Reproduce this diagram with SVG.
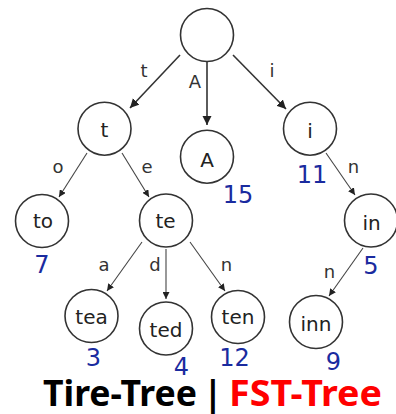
<svg xmlns="http://www.w3.org/2000/svg" width="396" height="414" viewBox="0 0 396 414">
<style>
.node circle{fill:#fff;stroke:#333;stroke-width:1.6}
.node text{font-family:"DejaVu Sans",sans-serif;font-size:20px;fill:#222;text-anchor:middle}
.lbl{font-family:"DejaVu Sans",sans-serif;font-size:18px;fill:#333;text-anchor:middle}
.node text.num{font-family:"DejaVu Sans",sans-serif;font-size:24px;fill:#1a2b9f;text-anchor:middle}
.e1{stroke:#333;stroke-width:1.6;marker-end:url(#ab)}
.e2{stroke:#444;stroke-width:1.1;marker-end:url(#as)}
.title{font-family:"Noto Sans","DejaVu Sans",sans-serif;font-weight:bold;font-size:35px}
</style>
<defs>
<marker id="ab" viewBox="0 0 10 10" refX="10" refY="5" markerWidth="9" markerHeight="10" markerUnits="userSpaceOnUse" orient="auto"><path d="M0,0 L10,5 L0,10 z" fill="#222"/></marker>
<marker id="as" viewBox="0 0 10 10" refX="10" refY="5" markerWidth="7" markerHeight="7" markerUnits="userSpaceOnUse" orient="auto"><path d="M0,0 L10,5 L0,10 z" fill="#222"/></marker>
</defs>
<rect width="396" height="414" fill="#fff"/>
<g id="edges">
<line class="e1" x1="180" y1="55" x2="130" y2="108"/>
<line class="e1" x1="207" y1="62" x2="207" y2="125"/>
<line class="e1" x1="233" y1="55" x2="286" y2="109"/>
<line class="e2" x1="87" y1="153" x2="59" y2="197"/>
<line class="e2" x1="122" y1="153" x2="149" y2="197"/>
<line class="e2" x1="326" y1="153" x2="355" y2="195"/>
<line class="e2" x1="142" y1="242" x2="107" y2="291"/>
<line class="e2" x1="166" y1="249" x2="166" y2="299"/>
<line class="e2" x1="190" y1="242" x2="225" y2="291"/>
<line class="e2" x1="363" y1="248" x2="329" y2="296"/>
<text class="lbl" x="144" y="77">t</text>
<text class="lbl" x="195" y="88">A</text>
<text class="lbl" x="272" y="77">i</text>
<text class="lbl" x="58" y="173">o</text>
<text class="lbl" x="147" y="173">e</text>
<text class="lbl" x="353.5" y="173">n</text>
<text class="lbl" x="104" y="271">a</text>
<text class="lbl" x="155" y="271">d</text>
<text class="lbl" x="226.5" y="271">n</text>
<text class="lbl" x="329.5" y="278">n</text>
</g>
<g id="root" class="node"><circle cx="207" cy="35" r="26.5"/></g>
<g id="n-t" class="node"><circle cx="104.5" cy="128.7" r="26.5"/><text x="104.5" y="137">t</text></g>
<g id="n-A" class="node"><circle cx="207" cy="156.7" r="26.5"/><text x="207" y="167">A</text><text class="num" x="238" y="203">15</text></g>
<g id="n-i" class="node"><circle cx="310" cy="128.7" r="26.5"/><text x="310" y="138">i</text><text class="num" x="312" y="183">11</text></g>
<g id="n-to" class="node"><circle cx="42" cy="221" r="26.5"/><text x="43" y="228">to</text><text class="num" x="42" y="273">7</text></g>
<g id="n-te" class="node"><circle cx="166" cy="220.5" r="26.5"/><text x="165.5" y="228">te</text></g>
<g id="n-in" class="node"><circle cx="371" cy="220.5" r="26.5"/><text x="371.5" y="230">in</text><text class="num" x="371" y="274">5</text></g>
<g id="n-tea" class="node"><circle cx="91.5" cy="316" r="26.5"/><text x="91.5" y="324">tea</text><text class="num" x="93.5" y="366">3</text></g>
<g id="n-ted" class="node"><circle cx="166" cy="328.5" r="26.5"/><text x="166" y="337">ted</text><text class="num" x="181.5" y="375">4</text></g>
<g id="n-ten" class="node"><circle cx="238" cy="317" r="26.5"/><text x="238" y="324">ten</text><text class="num" x="234.5" y="366">12</text></g>
<g id="n-inn" class="node"><circle cx="316" cy="322" r="26.5"/><text x="316" y="330.5">inn</text><text class="num" x="333.5" y="370">9</text></g>
<g id="title" class="title">
<text x="43" y="406" textLength="154" lengthAdjust="spacingAndGlyphs" fill="#000">Tire-Tree</text>
<text x="213" y="406" text-anchor="middle" fill="#000">|</text>
<text x="229" y="406" textLength="153" lengthAdjust="spacingAndGlyphs" fill="#f00">FST-Tree</text>
</g>
</svg>
